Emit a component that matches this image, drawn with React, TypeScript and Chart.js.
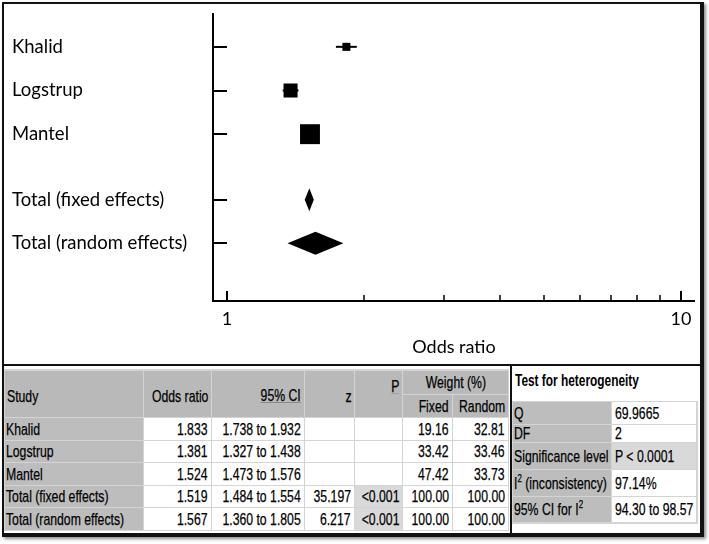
import React, { useEffect, useRef } from "react";
import { Chart, registerables } from "chart.js";

Chart.register(...registerables);

// ---------- data ----------
const STUDY_NAMES = ["Khalid", "Logstrup", "Mantel"];
const STUDY_OR = [1.833, 1.381, 1.524];
const STUDY_CI_LOW = [1.738, 1.327, 1.473];
const STUDY_CI_HIGH = [1.932, 1.438, 1.576];
const WEIGHT_FIXED = [19.16, 33.42, 47.42];
const WEIGHT_RANDOM = [32.81, 33.46, 33.73];

const POOLED_NAMES = ["Total (fixed effects)", "Total (random effects)"];
const POOLED_OR = [1.519, 1.567];
const POOLED_CI_LOW = [1.484, 1.36];
const POOLED_CI_HIGH = [1.554, 1.805];
const POOLED_Z = [35.197, 6.217];
const POOLED_P = ["<0.001", "<0.001"];
const POOLED_WEIGHT_FIXED = [100, 100];
const POOLED_WEIGHT_RANDOM = [100, 100];

const STUDY_ROWS = [0, 1, 2];
const POOLED_ROWS = [3.5, 4.5];

const X_TICKS = [1, 2, 3, 4, 5, 6, 7, 8, 9, 10];
const X_MAJOR_TICKS = [1, 10];
const X_TITLE = "Odds ratio";

const TABLE_HEADERS = ["Study", "Odds ratio", "95% CI", "z", "P", "Weight (%)", "Fixed", "Random"];

const HET_TITLE = "Test for heterogeneity";
const HET_LABELS = ["Q", "DF", "Significance level", "I^2 (inconsistency)", "95% CI for I^2"];
const HET_VALUES = ["69.9665", "2", "P < 0.0001", "97.14%", "94.30 to 98.57"];

// ---------- styles ----------
const SQUARE_PER_WEIGHT = 0.42;
const DIAMOND_HALF = 11.5;
const CHART_FONT = "Lato";
const TABLE_FONT = '17px "Liberation Sans", Arial, sans-serif';
const NARROW = 0.72;

const ROW_LABELS = [...STUDY_NAMES, ...POOLED_NAMES];
const ROW_POS = [...STUDY_ROWS, ...POOLED_ROWS];

const forestPlugin = {
  id: "forestExtras",
  afterDatasetsDraw(chart: any) {
    const { ctx, chartArea, scales } = chart;
    const x = scales.x;
    const y = scales.y;
    ctx.save();
    ctx.fillStyle = "#000";
    POOLED_OR.forEach((est: number, i: number) => {
      const py = y.getPixelForValue(POOLED_ROWS[i]);
      const xl = x.getPixelForValue(POOLED_CI_LOW[i]);
      const xe = x.getPixelForValue(est);
      const xh = x.getPixelForValue(POOLED_CI_HIGH[i]);
      ctx.beginPath();
      ctx.moveTo(xl, py);
      ctx.lineTo(xe, py - DIAMOND_HALF);
      ctx.lineTo(xh, py);
      ctx.lineTo(xe, py + DIAMOND_HALF);
      ctx.closePath();
      ctx.fill();
    });
    ctx.strokeStyle = "#000";
    y.ticks.forEach((t: any) => {
      const py = Math.round(y.getPixelForValue(t.value));
      ctx.lineWidth = 2;
      ctx.beginPath();
      ctx.moveTo(chartArea.left, py);
      ctx.lineTo(chartArea.left + 14, py);
      ctx.stroke();
    });
    x.ticks.forEach((t: any) => {
      const px = Math.round(x.getPixelForValue(t.value));
      const major = X_MAJOR_TICKS.includes(t.value);
      ctx.lineWidth = major ? 2 : 1.5;
      ctx.beginPath();
      ctx.moveTo(px, chartArea.bottom);
      ctx.lineTo(px, chartArea.bottom - (major ? 10 : 6));
      ctx.stroke();
    });
    ctx.restore();
  },
};

type CellProps = {
  x: number;
  y: number;
  w: number;
  h: number;
  bg: string;
  align?: "left" | "right" | "center";
  valign?: "center" | "flex-start";
  padTop?: number;
  padLeft?: number;
  children?: React.ReactNode;
};

function Narrow({ origin, children, style }: { origin: string; children?: React.ReactNode; style?: React.CSSProperties }) {
  return (
    <span
      style={{
        display: "inline-block",
        flexShrink: 0,
        whiteSpace: "nowrap",
        transform: `scaleX(${NARROW})`,
        transformOrigin: `${origin} center`,
        WebkitTextStroke: "0.25px #000",
        ...style,
      }}
    >
      {children}
    </span>
  );
}

function Cell({ x, y, w, h, bg, align = "right", valign = "center", padTop = 0, padLeft = 2, children }: CellProps) {
  return (
    <div
      style={{
        position: "absolute",
        left: x,
        top: y,
        width: w - 1,
        height: h - 1,
        background: bg,
        display: "flex",
        alignItems: valign,
        justifyContent: align === "left" ? "flex-start" : align === "center" ? "center" : "flex-end",
        paddingLeft: align === "left" ? padLeft : 0,
        paddingRight: align === "right" ? 3 : 0,
        paddingTop: padTop,
        boxSizing: "border-box",
        whiteSpace: "nowrap",
        lineHeight: "19px",
        color: "#000",
      }}
    >
      <Narrow origin={align}>{children}</Narrow>
    </div>
  );
}

function withSup(s: string) {
  const parts = s.split("^2");
  if (parts.length === 1) return s;
  return (
    <>
      {parts[0]}
      <sup style={{ fontSize: "11px", verticalAlign: "7px", lineHeight: 0 }}>2</sup>
      {parts[1]}
    </>
  );
}

const COL_X = [5, 144, 212, 305, 355, 403, 453, 509];
const HEAD_Y = [371, 395, 418];
const ROW_Y = [418, 441, 463, 486, 508, 531];
const HET_X = [513, 612, 697];
const HET_Y = [402, 425, 443, 470, 497, 523];

const HEADER_BG = "#b9b9b9";
const STUDY_BG = "#bdbdbd";
const LIGHT_BG = "#d9d9d9";
const GRID_BG = "#d4d4d4";

function MainTable() {
  const cells: React.ReactNode[] = [];
  const cw = (c: number, span = 1) => COL_X[c + span] - COL_X[c];
  const hh = HEAD_Y[2] - HEAD_Y[0];
  cells.push(<Cell key="h0" x={COL_X[0]} y={HEAD_Y[0]} w={cw(0)} h={hh} bg={HEADER_BG} align="left" padTop={4}>{TABLE_HEADERS[0]}</Cell>);
  cells.push(<Cell key="h1" x={COL_X[1]} y={HEAD_Y[0]} w={cw(1)} h={hh} bg={HEADER_BG} padTop={4}>{TABLE_HEADERS[1]}</Cell>);
  cells.push(
    <Cell key="h2" x={COL_X[2]} y={HEAD_Y[0]} w={cw(2)} h={hh} bg={HEADER_BG} padTop={3}>
      <span style={{ textDecoration: "underline", textDecorationColor: "#8a8a8a" }}>{TABLE_HEADERS[2]}</span>
    </Cell>
  );
  cells.push(<Cell key="h3" x={COL_X[3]} y={HEAD_Y[0]} w={cw(3)} h={hh} bg={HEADER_BG} padTop={4}>{TABLE_HEADERS[3]}</Cell>);
  cells.push(
    <Cell key="h4" x={COL_X[4]} y={HEAD_Y[0]} w={cw(4)} h={hh} bg={HEADER_BG} valign="flex-start" padTop={6}>
      <span style={{ textDecoration: "underline", textDecorationColor: "#a0a0a0" }}>{TABLE_HEADERS[4]}</span>
    </Cell>
  );
  cells.push(<Cell key="h5" x={COL_X[5]} y={HEAD_Y[0]} w={cw(5, 2)} h={HEAD_Y[1] - HEAD_Y[0]} bg={HEADER_BG} align="center">{TABLE_HEADERS[5]}</Cell>);
  cells.push(<Cell key="h6" x={COL_X[5]} y={HEAD_Y[1]} w={cw(5)} h={HEAD_Y[2] - HEAD_Y[1]} bg={HEADER_BG}>{TABLE_HEADERS[6]}</Cell>);
  cells.push(<Cell key="h7" x={COL_X[6]} y={HEAD_Y[1]} w={cw(6)} h={HEAD_Y[2] - HEAD_Y[1]} bg={HEADER_BG}>{TABLE_HEADERS[7]}</Cell>);

  const rows: { name: string; or: number; lo: number; hi: number; z: string; p: string; wf: number; wr: number; pooled: boolean }[] = [];
  STUDY_NAMES.forEach((n, i) =>
    rows.push({ name: n, or: STUDY_OR[i], lo: STUDY_CI_LOW[i], hi: STUDY_CI_HIGH[i], z: "", p: "", wf: WEIGHT_FIXED[i], wr: WEIGHT_RANDOM[i], pooled: false })
  );
  POOLED_NAMES.forEach((n, i) =>
    rows.push({ name: n, or: POOLED_OR[i], lo: POOLED_CI_LOW[i], hi: POOLED_CI_HIGH[i], z: POOLED_Z[i].toFixed(3), p: POOLED_P[i], wf: POOLED_WEIGHT_FIXED[i], wr: POOLED_WEIGHT_RANDOM[i], pooled: true })
  );
  rows.forEach((r, ri) => {
    const y = ROW_Y[ri];
    const h = ROW_Y[ri + 1] - y;
    const vals = [r.or.toFixed(3), `${r.lo.toFixed(3)} to ${r.hi.toFixed(3)}`, r.z, r.p, r.wf.toFixed(2), r.wr.toFixed(2)];
    cells.push(<Cell key={`r${ri}c0`} x={COL_X[0]} y={y} w={cw(0)} h={h} bg={STUDY_BG} align="left" padLeft={1}>{r.name}</Cell>);
    vals.forEach((v, ci) => {
      const bg = ci === 3 && r.pooled ? LIGHT_BG : "#ffffff";
      cells.push(<Cell key={`r${ri}c${ci + 1}`} x={COL_X[ci + 1]} y={y} w={cw(ci + 1)} h={h} bg={bg}>{v}</Cell>);
    });
  });

  return (
    <>
      <div style={{ position: "absolute", left: COL_X[0] - 1, top: HEAD_Y[0] - 2, width: COL_X[7] - COL_X[0] + 1, height: ROW_Y[5] - HEAD_Y[0] + 2, background: GRID_BG }} />
      {cells}
    </>
  );
}

function HetTable() {
  const cells: React.ReactNode[] = [];
  HET_LABELS.forEach((lab, i) => {
    const y = HET_Y[i];
    const h = HET_Y[i + 1] - y;
    cells.push(<Cell key={`l${i}`} x={HET_X[0]} y={y} w={HET_X[1] - HET_X[0]} h={h} bg={STUDY_BG} align="left" padLeft={1}>{withSup(lab)}</Cell>);
    cells.push(
      <Cell key={`v${i}`} x={HET_X[1]} y={y} w={HET_X[2] - HET_X[1]} h={h} bg={i === 2 ? LIGHT_BG : "#ffffff"} align="left" padLeft={3}>
        {HET_VALUES[i]}
      </Cell>
    );
  });
  return (
    <>
      <div style={{ position: "absolute", left: 515, top: 370, lineHeight: "21px", color: "#000", whiteSpace: "nowrap", fontSize: 16.5 }}>
        <Narrow origin="left" style={{ fontWeight: "bold", WebkitTextStroke: "0px" }}>{HET_TITLE}</Narrow>
      </div>
      <div style={{ position: "absolute", left: HET_X[0] - 1, top: HET_Y[0] - 1, width: HET_X[2] - HET_X[0] + 2, height: HET_Y[5] - HET_Y[0] + 2, background: GRID_BG }} />
      {cells}
    </>
  );
}

export default function App() {
  const canvasRef = useRef<HTMLCanvasElement>(null);

  useEffect(() => {
    const canvas = canvasRef.current;
    if (!canvas) return;
    const squares = {
      label: "Study odds ratio",
      data: STUDY_NAMES.map((_, i) => ({ x: STUDY_OR[i], y: STUDY_ROWS[i] })),
      pointStyle: "rect",
      pointRadius: WEIGHT_FIXED.map((w) => (w * SQUARE_PER_WEIGHT) / Math.SQRT2),
      pointHoverRadius: WEIGHT_FIXED.map((w) => (w * SQUARE_PER_WEIGHT) / Math.SQRT2),
      backgroundColor: "#000",
      borderColor: "#000",
      borderWidth: 0,
      order: 0,
    };
    const whiskers = STUDY_NAMES.map((n, i) => ({
      label: `${n} 95% CI`,
      data: [
        { x: STUDY_CI_LOW[i], y: STUDY_ROWS[i] },
        { x: STUDY_CI_HIGH[i], y: STUDY_ROWS[i] },
      ],
      showLine: true,
      borderColor: "#000",
      borderWidth: 2,
      pointRadius: 0,
      order: 1,
    }));

    const chart = new Chart(canvas, {
      type: "scatter",
      data: { datasets: [squares, ...whiskers] as any },
      options: {
        animation: false,
        responsive: false,
        devicePixelRatio: 1,
        layout: { padding: { left: 12, right: 12, top: 12, bottom: 0 } },
        plugins: { legend: { display: false }, tooltip: { enabled: false } },
        scales: {
          x: {
            type: "logarithmic",
            position: "bottom",
            min: 0.932,
            max: 10.73,
            bounds: "data",
            afterBuildTicks: (s: any) => {
              s.ticks = X_TICKS.map((v) => ({ value: v, major: X_MAJOR_TICKS.includes(v) }));
            },
            afterFit: (s: any) => {
              s.height = 63;
            },
            grid: { display: false, drawTicks: false },
            border: { display: true, color: "#000", width: 2 },
            ticks: {
              autoSkip: false,
              maxRotation: 0,
              padding: 7,
              color: "#000",
              font: { family: CHART_FONT, size: 18 },
              callback: (_v: any, i: number) => (X_MAJOR_TICKS.includes(X_TICKS[i]) ? String(X_TICKS[i]) : ""),
            },
            title: {
              display: true,
              text: X_TITLE,
              color: "#000",
              font: { family: CHART_FONT, size: 18 },
              padding: { top: 4, bottom: 6 },
            },
          },
          y: {
            type: "linear",
            min: -0.75,
            max: 5.82,
            reverse: true,
            afterBuildTicks: (s: any) => {
              s.ticks = ROW_POS.map((v) => ({ value: v }));
            },
            afterFit: (s: any) => {
              s.width = 201;
            },
            grid: { display: false, drawTicks: false },
            border: { display: true, color: "#000", width: 2 },
            ticks: {
              autoSkip: false,
              crossAlign: "far",
              padding: 0,
              color: "#000",
              font: { family: CHART_FONT, size: 18.5 },
              callback: (_v: any, i: number) => ROW_LABELS[i] ?? "",
            },
          },
        },
      } as any,
      plugins: [forestPlugin],
    });
    return () => chart.destroy();
  }, []);

  return (
    <div style={{ position: "absolute", left: 0, top: 0, width: 709, height: 544, background: "#fff", overflow: "hidden", font: TABLE_FONT }}>
      <div
        style={{
          position: "absolute",
          left: 2,
          top: 2,
          width: 702,
          height: 535,
          boxSizing: "border-box",
          borderStyle: "solid",
          borderColor: "#111",
          borderWidth: "2px 4px 4px 2px",
          boxShadow: "2px 2px 3px rgba(0,0,0,0.45)",
        }}
      />
      <div style={{ position: "absolute", left: 2, top: 364, width: 700, height: 2, background: "#111" }} />
      <div style={{ position: "absolute", left: 510, top: 364, width: 2, height: 170, background: "#111" }} />
      <MainTable />
      <HetTable />
      <canvas ref={canvasRef} width={709} height={364} style={{ position: "absolute", left: 0, top: 0, width: 709, height: 364 }} />
    </div>
  );
}
